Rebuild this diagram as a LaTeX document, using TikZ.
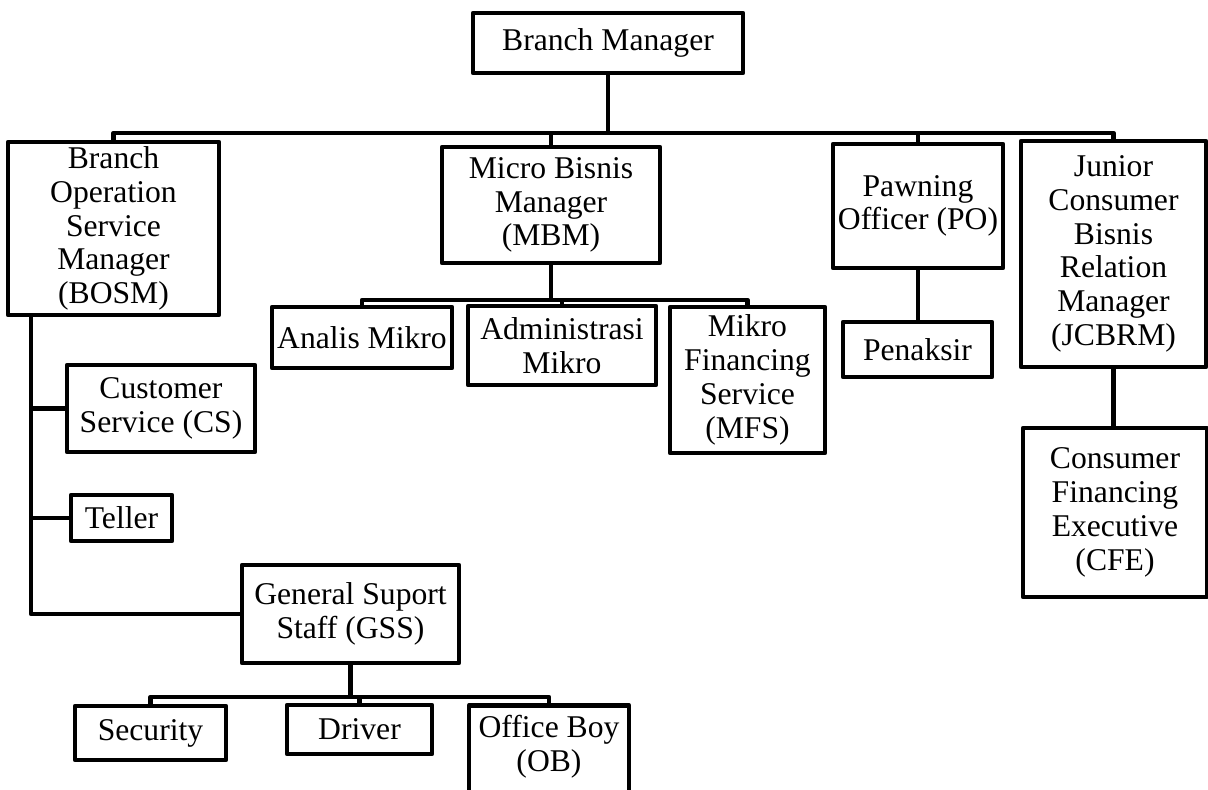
\documentclass[tikz,border=0pt]{standalone}
\usepackage{fontspec}
\setmainfont{Liberation Serif}
\newcommand\pxu{0.7113pt}
\tikzset{
  box/.style={draw, line width=3.2pt, line join=round, align=center, inner sep=0pt,
    font=\fontsize{22.5}{24}\selectfont},
  sz/.style 2 args={minimum width=#1*\pxu, minimum height=#2*\pxu},
  conn/.style={line width=3.2pt, line join=round}
}

\begin{document}
\begin{tikzpicture}[x=0.025cm, y=-0.025cm]
\useasboundingbox (0,0) rectangle (1208,789);
\clip (0,0) rectangle (1208,789);
% bus levels
\coordinate (topbus) at (0,133);
\coordinate (midbus) at (0,300);
\coordinate (gssbus) at (0,697);
\coordinate (spine) at (31,0);
% boxes
\node[box, sz={270}{60}] (bm) at (608,43) {Branch Manager};
\node[box, sz={211}{173}] (bosm) at (113.5,228.5) {Branch\\Operation\\Service\\Manager\\(BOSM)};
\node[box, sz={218}{116}] (mbm) at (551,205) {Micro Bisnis\\Manager\\(MBM)};
\node[box, sz={170}{124}] (po) at (918,206) {Pawning\\Officer (PO)};
\node[box, sz={185}{226}] (jcbrm) at (1113.5,254) {Junior\\Consumer\\Bisnis\\Relation\\Manager\\(JCBRM)};
\node[box, sz={180}{61}] (analis) at (362,337.5) {Analis Mikro};
\node[box, sz={188}{79}] (admin) at (562,345.5) {Administrasi\\Mikro};
\node[box, sz={155}{146}] (mfs) at (747.5,380) {Mikro\\Financing\\Service\\(MFS)};
\node[box, sz={149}{55}] (penaksir) at (917.5,349.5) {Penaksir};
\node[box, sz={184}{169}] (cfe) at (1115,512.5) {Consumer\\Financing\\Executive\\(CFE)};
\node[box, sz={188}{87}] (cs) at (161,408.5) {Customer\\Service (CS)};
\node[box, sz={101}{46}] (teller) at (121.5,518) {Teller};
\node[box, sz={217}{98}] (gss) at (350.5,614) {General Suport\\Staff (GSS)};
\node[box, sz={151}{54}] (security) at (150.5,733) {Security};
\node[box, sz={145}{49}] (driver) at (359.5,729.5) {Driver};
\node[box, minimum width=160*\pxu, anchor=north, inner ysep=10*\pxu, text depth=110*\pxu] (ob) at (549,703) {Office Boy\\(OB)};
% connectors
\draw[conn] (bm.south) -- (bm.south |- topbus);
\foreach \n in {bosm,mbm,po,jcbrm}
  \draw[conn] (bm.south |- topbus) -| (\n.north);
\draw[conn] (mbm.south) -- (mbm.south |- midbus);
\foreach \n in {analis,admin,mfs}
  \draw[conn] (mbm.south |- midbus) -| (\n.north);
\draw[conn] (po.south) -- (po.south |- penaksir.north);
\draw[conn] (jcbrm.south) -- (jcbrm.south |- cfe.north);
\draw[conn] (bosm.south -| spine) |- (gss.west);
\draw[conn] (spine |- cs.west) -- (cs.west);
\draw[conn] (spine |- teller.west) -- (teller.west);
\draw[conn] (gss.south) -- (gss.south |- gssbus);
\foreach \n in {security,driver,ob}
  \draw[conn] (gss.south |- gssbus) -| (\n.north);
\end{tikzpicture}
\end{document}
